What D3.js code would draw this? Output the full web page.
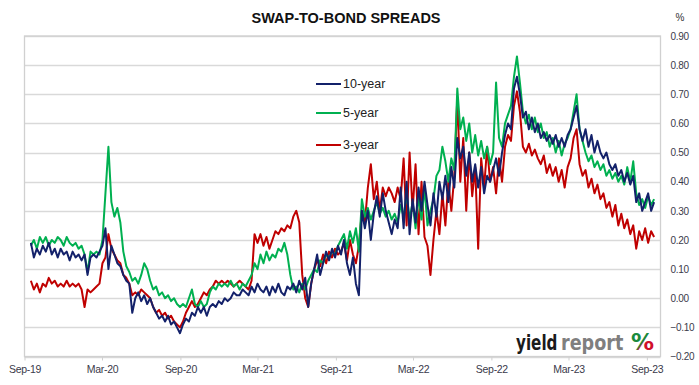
<!DOCTYPE html>
<html>
<head>
<meta charset="utf-8">
<script src="https://cdn.jsdelivr.net/npm/d3@7"></script>
<style>
  body { margin: 0; background: #fff; }
  svg { display: block; font-family: "Liberation Sans", Arial, sans-serif; }
</style>
</head>
<body>
<div id="chart"></div>
<script>
// weekly readings, first week starting 16 Sep 2019
var firstWeek = "2019-09-16";

var tenYear = [
  0.19,0.14,0.17,0.15,0.18,0.16,0.19,0.15,0.17,0.14, 0.17,0.15,0.16,0.13,0.16,0.14,0.15,0.13,0.15,0.08,
  0.14,0.15,0.14,0.16,0.18,0.24,0.10,0.18,0.15,0.12, 0.11,0.08,0.06,0.05,-0.05,0.00,0.02,-0.01,0.01,-0.02,
  0.00,-0.03,-0.05,-0.07,-0.06,-0.08,-0.06,-0.09,-0.08,-0.10, -0.12,-0.09,-0.07,-0.08,-0.05,-0.06,-0.03,-0.05,-0.03,-0.06,
  -0.03,-0.02,-0.03,-0.01,-0.02,0.00,-0.01,0.00,0.02,0.01, 0.01,0.03,0.02,0.01,0.04,0.02,0.05,0.03,0.02,0.04,
  0.01,0.04,0.02,0.05,0.02,0.01,0.04,0.03,0.05,0.02, 0.06,0.03,0.07,-0.03,0.05,0.10,0.15,0.08,0.12,0.16,
  0.13,0.17,0.14,0.18,0.15,0.20,0.12,0.08,0.14,0.05, 0.01,0.30,0.24,0.30,0.20,0.29,0.35,0.28,0.36,0.30,
  0.26,0.22,0.27,0.24,0.38,0.24,0.40,0.22,0.34,0.26, 0.38,0.30,0.40,0.32,0.25,0.36,0.28,0.40,0.34,0.42,
  0.33,0.45,0.38,0.55,0.48,0.52,0.42,0.50,0.40,0.46, 0.38,0.45,0.36,0.42,0.40,0.44,0.48,0.42,0.50,0.56,
  0.60,0.58,0.72,0.76,0.70,0.62,0.64,0.58,0.62,0.57, 0.60,0.55,0.57,0.54,0.56,0.53,0.56,0.52,0.55,0.52,
  0.56,0.58,0.62,0.66,0.58,0.54,0.58,0.52,0.56,0.50, 0.54,0.50,0.48,0.50,0.46,0.44,0.46,0.42,0.44,0.40,
  0.43,0.39,0.42,0.33,0.36,0.30,0.33,0.36,0.30,0.33
];

var fiveYear = [
  0.18,0.20,0.17,0.21,0.19,0.21,0.18,0.20,0.19,0.21, 0.20,0.18,0.21,0.19,0.18,0.19,0.17,0.18,0.15,0.09,
  0.16,0.15,0.16,0.15,0.20,0.36,0.52,0.33,0.28,0.31, 0.26,0.16,0.11,0.09,0.06,0.07,0.05,0.08,0.12,0.10,
  0.06,0.03,0.04,0.01,0.02,0.00,0.01,-0.01,0.00,-0.02, -0.03,-0.02,-0.03,0.00,0.03,-0.02,-0.03,-0.01,-0.03,-0.02,
  0.02,0.04,0.03,0.05,0.04,0.05,0.04,0.06,0.04,0.05, 0.03,0.05,0.04,0.06,0.08,0.12,0.10,0.15,0.12,0.16,
  0.13,0.15,0.14,0.17,0.16,0.19,0.15,0.08,0.03,0.04, 0.02,0.05,0.03,0.06,0.08,0.10,0.09,0.13,0.12,0.15,
  0.14,0.16,0.15,0.18,0.20,0.22,0.17,0.23,0.19,0.24, 0.16,0.34,0.28,0.31,0.27,0.30,0.33,0.29,0.31,0.28,
  0.30,0.27,0.29,0.26,0.32,0.28,0.36,0.27,0.33,0.24, 0.35,0.27,0.38,0.25,0.30,0.34,0.42,0.44,0.52,0.47,
  0.40,0.48,0.44,0.72,0.58,0.62,0.54,0.60,0.50,0.56, 0.49,0.54,0.48,0.52,0.46,0.50,0.74,0.55,0.52,0.60,
  0.63,0.66,0.76,0.83,0.74,0.64,0.60,0.63,0.58,0.62, 0.57,0.60,0.55,0.57,0.52,0.55,0.50,0.54,0.49,0.53,
  0.55,0.58,0.64,0.70,0.58,0.54,0.50,0.47,0.49,0.45, 0.47,0.44,0.46,0.42,0.44,0.41,0.43,0.40,0.42,0.39,
  0.45,0.40,0.47,0.36,0.32,0.34,0.31,0.35,0.32,0.34
];

var threeYear = [
  0.06,0.03,0.05,0.02,0.05,0.04,0.07,0.05,0.06,0.04, 0.05,0.04,0.06,0.04,0.05,0.04,0.05,0.03,-0.03,0.03,
  0.02,0.03,0.04,0.05,0.12,0.14,0.22,0.17,0.15,0.13, 0.12,0.08,0.07,0.05,0.01,0.02,0.01,0.03,0.02,0.01,
  0.00,-0.03,-0.05,-0.04,-0.06,-0.05,-0.07,-0.06,-0.08,-0.09, -0.10,-0.08,-0.05,-0.03,-0.01,-0.03,-0.02,0.00,0.02,0.01,
  0.03,0.04,0.06,0.05,0.06,0.05,0.06,0.05,0.04,0.05, 0.06,0.05,0.04,0.03,0.06,0.22,0.19,0.22,0.18,0.21,
  0.17,0.20,0.23,0.22,0.24,0.23,0.25,0.24,0.28,0.30, 0.26,0.08,0.00,-0.03,0.05,0.10,0.13,0.11,0.15,0.12,
  0.16,0.14,0.17,0.15,0.16,0.19,0.13,0.20,0.15,0.12, 0.18,0.30,0.26,0.38,0.46,0.34,0.40,0.30,0.38,0.35,
  0.38,0.36,0.33,0.38,0.34,0.48,0.25,0.50,0.30,0.46, 0.22,0.40,0.21,0.18,0.08,0.20,0.30,0.22,0.36,0.25,
  0.40,0.30,0.42,0.69,0.40,0.55,0.30,0.50,0.35,0.45, 0.17,0.48,0.38,0.52,0.40,0.45,0.36,0.48,0.40,0.52,
  0.56,0.54,0.66,0.71,0.64,0.52,0.50,0.53,0.49,0.51, 0.48,0.46,0.49,0.43,0.46,0.42,0.45,0.40,0.44,0.38,
  0.45,0.48,0.55,0.58,0.46,0.42,0.44,0.38,0.41,0.36, 0.39,0.34,0.36,0.31,0.33,0.28,0.32,0.25,0.29,0.24,
  0.27,0.22,0.25,0.17,0.23,0.20,0.24,0.19,0.23,0.21
];

var seriesNames = ["10-year", "5-year", "3-year"];
var seriesColours = ["#13216a", "#00b050", "#c00000"];
var xTickLabels = ["Sep-19", "Mar-20", "Sep-20", "Mar-21", "Sep-21", "Mar-22", "Sep-22", "Mar-23", "Sep-23"];
var yTicks = [0.9, 0.8, 0.7, 0.6, 0.5, 0.4, 0.3, 0.2, 0.1, 0.0, -0.1, -0.2];

var width = 699, height = 385;
var plot = { left: 24.5, right: 660.5, top: 36, bottom: 356.5 };
var axisFont = "'Liberation Sans', Arial, sans-serif";

var parse = d3.timeParse("%Y-%m-%d");
var parseTick = d3.timeParse("%b-%y");
var start = parse(firstWeek);

var series = [tenYear, fiveYear, threeYear].map(function(vals, i) {
    return {
        key: seriesNames[i],
        colour: seriesColours[i],
        values: vals.map(function(v, j) { return [d3.timeDay.offset(start, 7 * j), v]; })
    };
});

var xScale = d3.scaleTime()
    .domain([parse("2019-09-01"), parse("2023-10-03")])
    .range([plot.left, plot.right]);

var yScale = d3.scaleLinear()
    .domain([-0.2, 0.9])
    .range([plot.bottom, plot.top]);

var svg = d3.select("#chart").append("svg")
    .attr("width", width)
    .attr("height", height);

// gridlines
svg.append("g").selectAll("line")
    .data(yTicks)
    .enter().append("line")
    .attr("x1", plot.left).attr("x2", plot.right)
    .attr("y1", function(d) { return Math.round(yScale(d)) + 0.5; })
    .attr("y2", function(d) { return Math.round(yScale(d)) + 0.5; })
    .attr("stroke", "#d9d9d9")
    .attr("stroke-width", 1.3);

// plot border
svg.append("rect")
    .attr("x", plot.left).attr("y", plot.top)
    .attr("width", plot.right - plot.left)
    .attr("height", plot.bottom - plot.top)
    .attr("fill", "none")
    .attr("stroke", "#d0d0d0")
    .attr("stroke-width", 1.3);

// right axis labels
var yAxis = d3.axisRight(yScale)
    .tickValues(yTicks)
    .tickFormat(d3.format(".2f"))
    .tickSize(0)
    .tickPadding(10);
var yAxisG = svg.append("g")
    .attr("transform", "translate(" + plot.right + ",0)")
    .call(yAxis);
yAxisG.select(".domain").remove();
yAxisG.selectAll("text")
    .attr("font-size", 10)
    .attr("letter-spacing", -0.3)
    .attr("font-family", axisFont)
    .attr("fill", "#3a3a4a");

// bottom axis
var xAxis = d3.axisBottom(xScale)
    .tickValues(xTickLabels.map(function(t) { return parseTick(t); }))
    .tickFormat(d3.timeFormat("%b-%y"))
    .tickSize(4)
    .tickPadding(5);
var xAxisG = svg.append("g")
    .attr("transform", "translate(0," + plot.bottom + ")")
    .call(xAxis);
xAxisG.select(".domain").remove();
xAxisG.selectAll("line").attr("stroke", "#d0d0d0");
xAxisG.selectAll("text")
    .attr("font-size", 10.5)
    .attr("letter-spacing", -0.3)
    .attr("font-family", axisFont)
    .attr("fill", "#3a3a4a");

// series lines
var line = d3.line()
    .x(function(d) { return xScale(d[0]); })
    .y(function(d) { return yScale(d[1]); });

svg.append("g").selectAll("path")
    .data(series.slice().reverse())
    .enter().append("path")
    .attr("d", function(d) { return line(d.values); })
    .attr("fill", "none")
    .attr("stroke", function(d) { return d.colour; })
    .attr("stroke-width", 2)
    .attr("stroke-linejoin", "round");

// legend
var legend = svg.append("g").selectAll("g")
    .data(series)
    .enter().append("g")
    .attr("transform", function(d, i) { return "translate(316," + [84, 113, 145][i] + ")"; });
legend.append("line")
    .attr("x1", 0).attr("x2", 25)
    .attr("stroke", function(d) { return d.colour; })
    .attr("stroke-width", 2);
legend.append("text")
    .attr("x", 27).attr("dy", "0.35em")
    .attr("font-size", 12.5)
    .attr("fill", "#222")
    .text(function(d) { return d.key; });

// title and unit
svg.append("text")
    .attr("x", 346).attr("y", 23)
    .attr("text-anchor", "middle")
    .attr("font-size", 14.5)
    .attr("font-weight", "bold")
    .attr("fill", "#111")
    .text("SWAP-TO-BOND SPREADS");
svg.append("text")
    .attr("x", 680).attr("y", 21)
    .attr("text-anchor", "middle")
    .attr("font-size", 10)
    .attr("fill", "#333")
    .text("%");

// logo: narrowed by scaling so the pieces keep their own room
var defs = svg.append("defs");
var grad = defs.append("linearGradient")
    .attr("id", "pct").attr("gradientUnits", "userSpaceOnUse")
    .attr("x1", 632).attr("y1", 334).attr("x2", 654).attr("y2", 351);
grad.append("stop").attr("offset", "47%").attr("stop-color", "#1b8a3c");
grad.append("stop").attr("offset", "53%").attr("stop-color", "#d0102a");

var logoFont = "'DejaVu Sans', 'Liberation Sans', sans-serif";
svg.append("g")
    .attr("transform", "translate(516,350) scale(0.69,1)")
    .append("text")
    .attr("font-size", 22).attr("font-weight", "bold").attr("font-family", logoFont)
    .attr("fill", "#1a1a1a").text("yield");
svg.append("g")
    .attr("transform", "translate(561,350) scale(0.8,1)")
    .append("text")
    .attr("font-size", 22).attr("font-weight", "bold").attr("font-family", logoFont)
    .attr("fill", "#7f7f7f").text("report");
svg.append("text")
    .attr("x", 631).attr("y", 350)
    .attr("font-size", 23).attr("font-weight", "bold").attr("font-family", logoFont)
    .attr("fill", "url(#pct)").text("%");
</script>
</body>
</html>
